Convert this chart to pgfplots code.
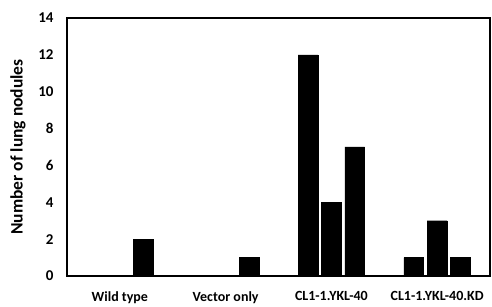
\documentclass[border=0pt]{standalone}
\usepackage{pgfplots}
\pgfplotsset{compat=1.18}
\usepackage{fontspec}
\setmainfont{Carlito}
\begin{document}
\begin{tikzpicture}
\begin{axis}[
  scale only axis,
  width=423pt, height=258pt,
  xmin=-0.5, xmax=3.5,
  ymin=0, ymax=14,
  ytick={0,2,...,14},
  yticklabel={\textbf{\pgfmathprintnumber[assume math mode=true]{\tick}}},
  xtick={0,1,2,3},
  xticklabels={Wild type,Vector only,CL1-1.YKL-40,CL1-1.YKL-40.KD},
  major tick length=0pt,
  axis line style={line width=2pt},
  ylabel={Number of lung nodules},
  ylabel style={font=\fontsize{17.5}{20}\selectfont\bfseries, at={(axis description cs:-0.116,0.5)}, anchor=center},
  yticklabel style={font=\fontsize{15}{17}\selectfont\bfseries, anchor=east, xshift=-10pt},
  xticklabel style={font=\fontsize{14}{16}\selectfont\bfseries, anchor=north, yshift=-12pt},
  /pgf/number format/assume math mode=true,
  ybar, bar width=0.188,
  clip=false,
]
\addplot[fill=black, draw=black, bar shift=-0.221] coordinates {(2,12) (3,1)};
\addplot[fill=black, draw=black, bar shift=0] coordinates {(2,4) (3,3)};
\addplot[fill=black, draw=black, bar shift=0.221] coordinates {(0,2) (1,1) (2,7) (3,1)};
\end{axis}
\path[use as bounding box] ([xshift=-67pt,yshift=-30pt]current axis.south west) rectangle ([xshift=2pt,yshift=18pt]current axis.north east);
\end{tikzpicture}
\end{document}
